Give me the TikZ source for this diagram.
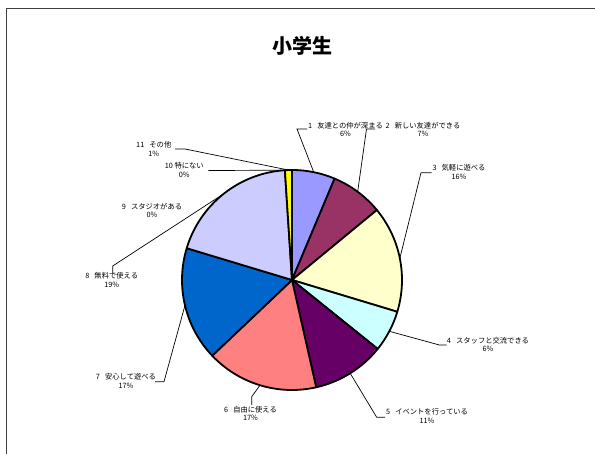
\documentclass[tikz,border=0pt]{standalone}
\usepackage{fontspec}
\setmainfont{Noto Sans CJK JP}
\usetikzlibrary{calc}
\definecolor{c1}{HTML}{9999FF}
\definecolor{c2}{HTML}{993366}
\definecolor{c3}{HTML}{FFFFCC}
\definecolor{c4}{HTML}{CCFFFF}
\definecolor{c5}{HTML}{660066}
\definecolor{c6}{HTML}{FF8080}
\definecolor{c7}{HTML}{0066CC}
\definecolor{c8}{HTML}{CCCCFF}
\definecolor{c11}{HTML}{FFFF00}
\newcommand\gapsp{\hspace{0.7em}}
\begin{document}
\begin{tikzpicture}[x=1pt,y=1pt,
  slicestyle/.style={draw=black, line width=1.8pt, line join=round},
  leader/.style={draw=black, line width=0.7pt},
  lbl/.style={font=\fontsize{7.3}{8.5}\selectfont, align=center, inner sep=0pt}]
\useasboundingbox (0,0) rectangle (595,454);
\draw[black!75, line width=0.7pt] (6,0) -- (6,446) -- (595,446);
\node[font=\fontsize{20}{22}\selectfont\bfseries] (title) at (302,408) {小学生};
\coordinate (C) at (292,174);
\foreach \a/\b/\c in {90/67.2/c1, 67.2/39.5/c2, 39.5/-16.8/c3, -16.8/-38.8/c4, -38.8/-77.3/c5, -77.3/-136.5/c6, -136.5/-196.8/c7, -196.8/-266.3/c8, -266.3/-270/c11}
  \filldraw[slicestyle, fill=\c] (C) -- ([shift={(\a:110)}]C) arc[start angle=\a, end angle=\b, radius=110] -- cycle;
% labels
\node[lbl] (l1) at (345.5,324.5) {1\gapsp 友達との仲が深まる\\6\%};
\node[lbl] (l2) at (423,324.5) {2\gapsp 新しい友達ができる\\7\%};
\node[lbl] (l3) at (459,281.8) {3\gapsp 気軽に遊べる\\16\%};
\node[lbl] (l4) at (488,109.5) {4\gapsp スタッフと交流できる\\6\%};
\node[lbl] (l5) at (427,38) {5\gapsp イベントを行っている\\11\%};
\node[lbl] (l6) at (250.5,40.5) {6\gapsp 自由に使える\\17\%};
\node[lbl] (l7) at (126,73) {7\gapsp 安心して遊べる\\17\%};
\node[lbl] (l8) at (111.7,174) {8\gapsp 無料で使える\\19\%};
\node[lbl] (l9) at (152,243.7) {9\gapsp スタジオがある\\0\%};
\node[lbl] (l10) at (184.3,284) {10 特にない\\0\%};
\node[lbl] (l11) at (153.8,305.2) {11\gapsp その他\\1\%};
% leader points
\coordinate (e1) at ([shift={(78.6:110)}]C);
\coordinate (e2) at ([shift={(53.35:110)}]C);
\coordinate (e3) at ([shift={(11.35:110)}]C);
\coordinate (e4) at ([shift={(-27.8:110)}]C);
\coordinate (e5) at ([shift={(-58.05:110)}]C);
\coordinate (e6) at ([shift={(-106.9:110)}]C);
\coordinate (e7) at ([shift={(-166.65:110)}]C);
\coordinate (e8) at ([shift={(128.45:110)}]C);
\coordinate (e10) at ([shift={(93.7:110)}]C);
\coordinate (e11) at ([shift={(91.85:110)}]C);
\coordinate (b1) at (297,325); \coordinate (t1) at (307,325);
\coordinate (b2) at (366.5,325); \coordinate (t2) at (375,325);
\coordinate (b3) at (421,281.3); \coordinate (t3) at (431.5,281.3);
\coordinate (b4) at (439.3,109); \coordinate (t4) at (446.7,109);
\coordinate (b5) at (376.7,36.7); \coordinate (t5) at (385,36.7);
\coordinate (b6) at (251.7,57.3); \coordinate (t6) at (251.7,49);
\coordinate (b7) at (164,72.3); \coordinate (t7) at (155,72.3);
\coordinate (b8) at (112.7,188); \coordinate (t8) at (112.7,180.7);
\coordinate (t10) at (208.3,283.5);
\coordinate (b11) at (185,305); \coordinate (t11) at (175,305);
\draw[leader] (e1) -- (b1) -- (t1);
\draw[leader] (e2) -- (b2) -- (t2);
\draw[leader] (e3) -- (b3) -- (t3);
\draw[leader] (e4) -- (b4) -- (t4);
\draw[leader] (e5) -- (b5) -- (t5);
\draw[leader] (e6) -- (b6) -- (t6);
\draw[leader] (e7) -- (b7) -- (t7);
\draw[leader] (e8) -- (b8) -- (t8);
\draw[leader] (e10) -- (t10);
\draw[leader] (e11) -- (b11) -- (t11);
\end{tikzpicture}
\end{document}
